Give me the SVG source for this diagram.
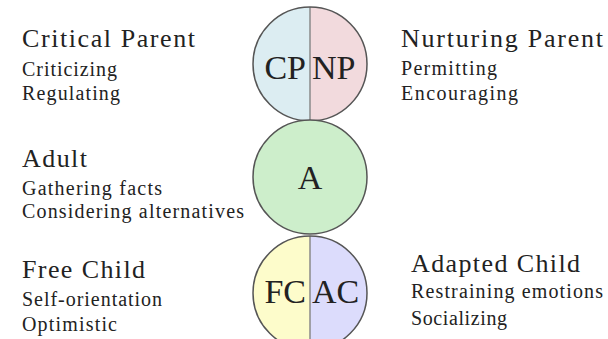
<svg xmlns="http://www.w3.org/2000/svg" width="608" height="339" viewBox="0 0 608 339">
<style>
text{font-family:"Liberation Serif","Times New Roman","DejaVu Serif",serif;fill:#222}
.h{font-size:26px}
.s{font-size:20px}
.c{font-size:34px}
.ring{stroke:#555;stroke-width:1.5}
.div{stroke:#8a8a8a;stroke-width:1.5}
</style>
<rect width="608" height="339" fill="#fff"/>
<g id="parent">
<path d="M310,7 A57,57 0 0 0 310,121 Z" fill="#dcedf2"/>
<path d="M310,7 A57,57 0 0 1 310,121 Z" fill="#f2dadd"/>
<line class="div" x1="310" y1="7" x2="310" y2="121"/>
<circle class="ring" cx="310" cy="64" r="57" fill="none"/>
<text class="c" x="306" y="79" text-anchor="end">CP</text>
<text class="c" x="312" y="79">NP</text>
</g>
<g id="adult">
<circle class="ring" cx="310" cy="177" r="57" fill="#cdeecb"/>
<text class="c" x="310" y="189" text-anchor="middle">A</text>
</g>
<g id="child">
<path d="M310,236 A57,57 0 0 0 310,350 Z" fill="#fdfccb"/>
<path d="M310,236 A57,57 0 0 1 310,350 Z" fill="#dcdcfc"/>
<line class="div" x1="310" y1="236" x2="310" y2="350"/>
<circle class="ring" cx="310" cy="293" r="57" fill="none"/>
<text class="c" x="306" y="303" text-anchor="end">FC</text>
<text class="c" x="312" y="303">AC</text>
</g>
<g id="cp-label">
<text class="h" x="22" y="47" textLength="173" lengthAdjust="spacing">Critical Parent</text>
<text class="s" x="22" y="76" textLength="95" lengthAdjust="spacing">Criticizing</text>
<text class="s" x="22" y="100" textLength="98" lengthAdjust="spacing">Regulating</text>
</g>
<g id="np-label">
<text class="h" x="401" y="47" textLength="202" lengthAdjust="spacing">Nurturing Parent</text>
<text class="s" x="401" y="75" textLength="96" lengthAdjust="spacing">Permitting</text>
<text class="s" x="401" y="100" textLength="117" lengthAdjust="spacing">Encouraging</text>
</g>
<g id="a-label">
<text class="h" x="22" y="167" textLength="65" lengthAdjust="spacing">Adult</text>
<text class="s" x="22" y="195" textLength="140" lengthAdjust="spacing">Gathering facts</text>
<text class="s" x="22" y="218" textLength="222" lengthAdjust="spacing">Considering alternatives</text>
</g>
<g id="fc-label">
<text class="h" x="22" y="278" textLength="123" lengthAdjust="spacing">Free Child</text>
<text class="s" x="22" y="306" textLength="140" lengthAdjust="spacing">Self-orientation</text>
<text class="s" x="22" y="331" textLength="95" lengthAdjust="spacing">Optimistic</text>
</g>
<g id="ac-label">
<text class="h" x="411" y="272" textLength="169" lengthAdjust="spacing">Adapted Child</text>
<text class="s" x="411" y="298" textLength="192" lengthAdjust="spacing">Restraining emotions</text>
<text class="s" x="411" y="325" textLength="96" lengthAdjust="spacing">Socializing</text>
</g>
<g id="connectors"></g>
</svg>
